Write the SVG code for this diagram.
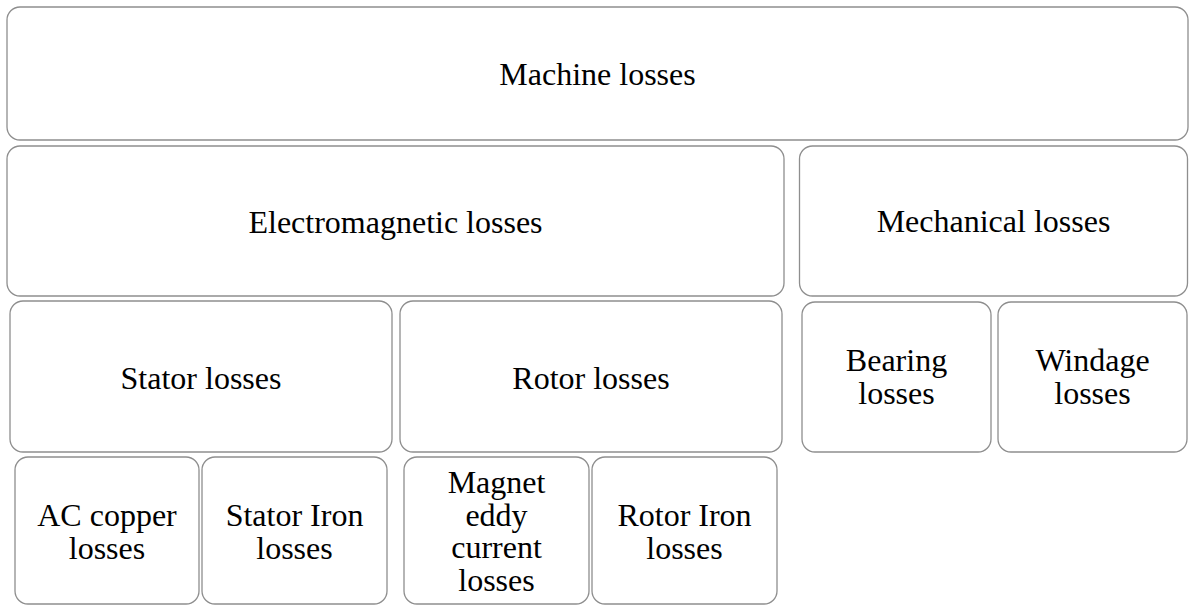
<svg xmlns="http://www.w3.org/2000/svg" width="1189" height="605" viewBox="0 0 1189 605">
<style>
rect.b{fill:#ffffff;stroke:#8e8e8e;stroke-width:1.3}
text{font-family:'Liberation Serif','Times New Roman',serif;font-size:32px;fill:#000000;text-anchor:middle}
</style>
<rect width="1189" height="605" fill="#ffffff"/>
<g id="machine"><rect class="b" x="7" y="7" width="1181" height="133" rx="13"/><text x="597.5" y="84.5">Machine losses</text></g>
<g id="electromagnetic"><rect class="b" x="7" y="146" width="777" height="150" rx="13"/><text x="395.5" y="232.5">Electromagnetic losses</text></g>
<g id="mechanical"><rect class="b" x="799.5" y="146" width="388" height="150" rx="13"/><text x="993.5" y="231.5">Mechanical losses</text></g>
<g id="stator"><rect class="b" x="10" y="301" width="382" height="151" rx="13"/><text x="201" y="388.5">Stator losses</text></g>
<g id="rotor"><rect class="b" x="400" y="301" width="382" height="151" rx="13"/><text x="591" y="388.5">Rotor losses</text></g>
<g id="bearing"><rect class="b" x="802" y="302" width="189" height="150" rx="13"/><text x="896.5" y="370.5">Bearing</text><text x="896.5" y="403.5">losses</text></g>
<g id="windage"><rect class="b" x="998" y="302" width="189" height="150" rx="13"/><text x="1092.5" y="370.5">Windage</text><text x="1092.5" y="403.5">losses</text></g>
<g id="accopper"><rect class="b" x="15" y="457" width="184" height="147" rx="13"/><text x="107" y="526">AC copper</text><text x="107" y="558.5">losses</text></g>
<g id="statoriron"><rect class="b" x="202" y="457" width="185" height="147" rx="13"/><text x="294.5" y="526">Stator Iron</text><text x="294.5" y="558.5">losses</text></g>
<g id="magnet"><rect class="b" x="404" y="457" width="185" height="147" rx="13"/><text x="496.5" y="492.5">Magnet</text><text x="496.5" y="525.5">eddy</text><text x="496.5" y="558">current</text><text x="496.5" y="590.5">losses</text></g>
<g id="rotoriron"><rect class="b" x="592" y="457" width="185" height="147" rx="13"/><text x="684.5" y="526">Rotor Iron</text><text x="684.5" y="558.5">losses</text></g>
<g id="connectors"></g>
</svg>
